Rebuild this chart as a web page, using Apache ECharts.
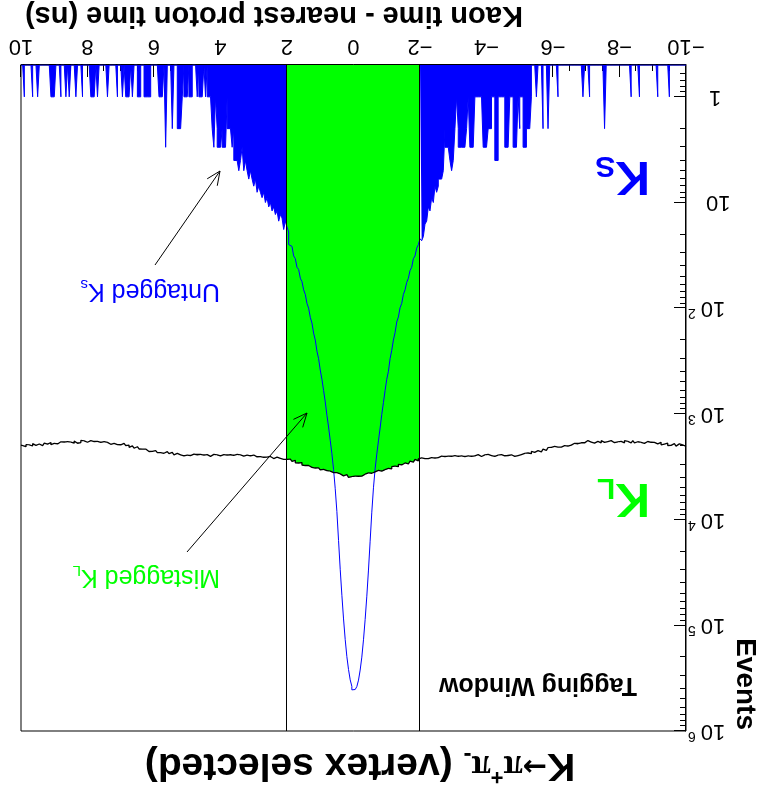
<!DOCTYPE html>
<html><head><meta charset="utf-8">
<script src="https://cdn.jsdelivr.net/npm/echarts@6/dist/echarts.min.js"></script>
<style>
html,body{margin:0;padding:0;background:#fff;overflow:hidden;}
#wrap{width:774px;height:789px;transform:rotate(180deg);transform-origin:50% 50%;}
#chart{width:774px;height:789px;}
</style></head><body>
<div id="wrap"><div id="chart"></div></div>
<script>
// ---------------- data ----------------
const X_MIN = -10, X_MAX = 10, BIN_WIDTH = 0.05;
const WINDOW_LO = -2, WINDOW_HI = 2;
const Y_MIN = 0.5, Y_MAX = 1e6;
const xTicks = [-10, -8, -6, -4, -2, 0, 2, 4, 6, 8, 10];
const yMajorTicks = [1, 10, 100, 1000, 10000, 100000, 1000000];
const yMinorTicks = [0.6,0.7,0.8,0.9, 2,3,4,5,6,7,8,9, 20,30,40,50,60,70,80,90,
  200,300,400,500,600,700,800,900, 2000,3000,4000,5000,6000,7000,8000,9000,
  20000,30000,40000,50000,60000,70000,80000,90000, 200000,300000,400000,500000,600000,700000,800000,900000];

// K_S (blue) counts per 0.05 ns bin, from -10 ns to +10 ns
const ksCounts = [
0,0,0,0,0,0,0,0,0,0,1,0,0,0,0,0,0,1,0,0,
0,0,0,0,0,0,0,0,1,0,0,0,0,1,0,0,0,0,0,0,
0,0,0,0,0,0,0,0,0,2,0,0,0,0,0,0,0,0,1,0,
0,0,1,0,0,0,0,0,0,0,0,0,0,0,0,0,0,1,0,0,
0,0,0,2,0,0,2,0,0,0,1,0,0,1,2,2,3,3,1,1,
2,1,3,3,1,1,1,3,3,1,1,1,1,4,4,1,1,2,2,2,
3,3,3,1,1,1,1,1,3,3,3,1,2,3,3,3,3,2,1,2,
4,5,4,3,3,2,5,6,6,7,8,7,10,9,12,11,15,16,21,23,
22,25,27,32,34,41,44,52,57,67,74,90,99,121,135,170,200,250,300,395,
470,600,780,1010,1360,1800,2400,3300,5000,8500,16000,30000,53000,88000,137000,200000,265000,330000,380000,405000,
408000,378000,328000,262000,198000,136000,87000,52000,29500,15800,8400,5100,3350,2380,1780,1330,1030,770,600,470,
385,300,255,200,172,138,122,100,90,74,67,56,52,43,41,34,32,26,25,19,
17,15,18,14,13,15,12,13,11,12,10,11,9,10,8,9,8,7,8,6,
7,6,5,6,5,4,5,3,4,5,4,4,2,3,2,2,1,3,3,2,
3,3,2,1,3,2,1,1,0,1,0,1,1,0,1,0,0,1,1,0,
1,1,0,1,2,2,0,0,0,2,0,0,0,3,0,1,1,1,0,0,
0,0,1,1,1,1,0,0,1,1,0,0,0,1,0,1,1,1,0,1,
0,0,1,0,0,0,0,0,1,0,0,0,0,0,1,0,1,1,1,0,
0,0,0,1,0,0,0,1,0,0,0,1,0,1,0,0,1,0,0,0,
1,1,1,0,0,0,0,0,0,0,1,0,0,1,0,0,0,0,1,0
];

// K_L (black) counts per 0.05 ns bin, from -10 ns to +10 ns
const klCounts = [
2035,1959,1993,1922,1997,2016,1940,1909,1984,1933,1992,1891,1931,1895,1959,1858,1923,1927,1856,1885,
1855,1922,1824,1885,1902,1824,1861,1913,1834,1806,1878,1855,1787,1878,1820,1857,1794,1876,1817,1790,
1835,1776,1872,1803,1789,1865,1831,1772,1858,1849,1790,1876,1822,1803,1889,1810,1846,1872,1788,1864,
1880,1823,1875,1823,1915,1953,1896,1883,1976,1943,2021,1939,1996,1979,2061,1979,2062,2084,2032,2080,
2075,2163,2087,2170,2209,2152,2210,2284,2227,2221,2314,2312,2266,2379,2343,2401,2359,2463,2426,2420,
2475,2425,2520,2450,2435,2510,2475,2415,2500,2490,2430,2515,2460,2440,2525,2445,2480,2505,2420,2495,
2440,2505,2530,2465,2425,2515,2490,2450,2525,2430,2500,2475,2535,2445,2495,2460,2520,2435,2485,2510,
2520,2459,2508,2452,2541,2575,2514,2498,2587,2551,2625,2539,2593,2572,2651,2565,2644,2663,2607,2651,
2663,2782,2689,2804,2859,2793,2876,2977,2913,2913,3042,3049,2999,3154,3116,3202,3160,3305,3269,3272,
3366,3313,3477,3410,3421,3558,3541,3490,3642,3661,3610,3763,3720,3727,3880,3803,3888,3958,3876,4017,
3926,3981,3979,3853,3761,3852,3783,3692,3763,3596,3661,3593,3644,3485,3523,3442,3494,3344,3383,3387,
3363,3236,3253,3133,3202,3201,3076,3011,3081,2990,3043,2887,2913,2844,2903,2749,2810,2793,2679,2695,
2626,2687,2583,2639,2650,2566,2597,2643,2559,2525,2591,2562,2488,2574,2510,2541,2472,2548,2484,2450,
2430,2495,2520,2455,2415,2505,2480,2440,2515,2420,2490,2465,2525,2435,2485,2450,2510,2425,2475,2500,
2510,2440,2480,2415,2495,2520,2450,2425,2505,2460,2515,2420,2465,2435,2505,2405,2475,2485,2420,2455,
2430,2489,2384,2438,2448,2362,2392,2436,2351,2315,2380,2349,2274,2358,2293,2322,2252,2326,2261,2225,
2265,2188,2267,2180,2149,2207,2155,2079,2147,2121,2044,2112,2041,2004,2073,1976,1994,2003,1901,1960,
1890,1949,1969,1898,1853,1937,1907,1861,1931,1830,1895,1864,1919,1823,1868,1827,1882,1791,1836,1855,
1865,1799,1843,1782,1866,1895,1829,1808,1892,1851,1920,1829,1878,1852,1926,1835,1909,1923,1862,1900,
1878,1953,1863,1934,1959,1889,1935,1995,1925,1906,1986,1971,1911,2012,1962,2007,1953,2043,1993,1970
];

// ---------------- helpers ----------------
const FONT = "'Liberation Sans', Arial, Helvetica, sans-serif";
const SERIF = "'Liberation Serif', 'Times New Roman', serif";
const BLUE = '#0000ff', GREEN = '#00ff00';
function edge(i){ return Math.round((X_MIN + i * BIN_WIDTH) * 1000) / 1000; }
function binIndex(x){ return Math.round((x - X_MIN) / BIN_WIDTH); }
function stepData(vals, from, to){
  const pts = [];
  for (let i = from; i < to; i++) pts.push([edge(i), Math.max(vals[i], Y_MIN)]);
  pts.push([edge(to), Math.max(vals[to - 1], Y_MIN)]);
  return pts;
}
const nBins = ksCounts.length;
const wLo = binIndex(WINDOW_LO), wHi = binIndex(WINDOW_HI);

function arrow(x1, y1, x2, y2){
  const dx = x2 - x1, dy = y2 - y1, L = Math.hypot(dx, dy);
  const ux = dx / L, uy = dy / L, h = 15, a = 0.42;
  const c = Math.cos(a), s = Math.sin(a);
  const p1 = [x2 - h * (ux * c - uy * s), y2 - h * (uy * c + ux * s)];
  const p2 = [x2 - h * (ux * c + uy * s), y2 - h * (uy * c - ux * s)];
  return [
    {type:'line', shape:{x1:x1, y1:y1, x2:x2, y2:y2}, style:{stroke:'#000', lineWidth:1}, z:50},
    {type:'polyline', shape:{points:[p1, [x2, y2], p2]}, style:{stroke:'#000', lineWidth:1, fill:null}, z:50}
  ];
}

const chart = echarts.init(document.getElementById('chart'), null, {renderer:'canvas'});
const option = {
  animation: false,
  backgroundColor: '#fff',
  grid: {left: 88, right: 21, top: 58, bottom: 65, show: true, borderColor: '#000', borderWidth: 1},
  xAxis: {
    type: 'value', min: X_MIN, max: X_MAX, interval: 2,
    axisLine: {show: true, onZero: false, lineStyle: {color: '#000', width: 1}},
    axisTick: {show: true, inside: true, length: 12, lineStyle: {color: '#000'}},
    minorTick: {show: true, splitNumber: 4, length: 6, lineStyle: {color: '#000'}},
    splitLine: {show: false},
    axisLabel: {margin: 8, fontSize: 22, color: '#000', fontFamily: FONT,
      formatter: v => (v < 0 ? '\u2212' + (-v) : '' + v)}
  },
  yAxis: [{
    type: 'log', logBase: 10, min: Y_MIN, max: Y_MAX, position: 'left',
    axisLine: {show: true, onZero: false, lineStyle: {color: '#000', width: 1}},
    axisTick: {show: true, inside: true, length: 12, customValues: yMajorTicks, lineStyle: {color: '#000'}},
    splitLine: {show: false},
    axisLabel: {
      customValues: yMajorTicks, margin: 2, color: '#000', fontFamily: FONT, fontSize: 22,
      formatter: function(v){
        const e = Math.round(Math.log10(v));
        if (e === 0) return '{a|1}';
        if (e === 1) return '{b|10}';
        return '{n|10}{s|' + e + '}';
      },
      rich: {
        a: {fontSize: 22, fontFamily: FONT, color: '#000', padding: [0, 21, 0, 0]},
        b: {fontSize: 22, fontFamily: FONT, color: '#000', padding: [0, 18, 0, 0]},
        n: {fontSize: 22, fontFamily: FONT, color: '#000', lineHeight: 24},
        s: {fontSize: 14, fontFamily: FONT, color: '#000', verticalAlign: 'top', lineHeight: 14, padding: [0, 0, 0, 5]}
      }
    }
  }, {
    type: 'log', logBase: 10, min: Y_MIN, max: Y_MAX, position: 'left',
    axisLine: {show: false, onZero: false},
    axisTick: {show: true, inside: true, length: 6, customValues: yMinorTicks, lineStyle: {color: '#000'}},
    axisLabel: {show: false},
    splitLine: {show: false}
  }],
  series: [
    { // mistagged K_L fill (inside window)
      type: 'line', step: 'end', symbol: 'none', z: 1,
      data: stepData(klCounts, wLo, wHi),
      lineStyle: {width: 0, color: GREEN},
      areaStyle: {color: GREEN, opacity: 1, origin: 'start'}
    },
    { // untagged K_S fill, negative side
      type: 'line', step: 'end', symbol: 'none', z: 2,
      data: stepData(ksCounts, 0, wLo),
      lineStyle: {width: 0, color: BLUE},
      areaStyle: {color: BLUE, opacity: 1, origin: 'start'}
    },
    { // untagged K_S fill, positive side
      type: 'line', step: 'end', symbol: 'none', z: 2,
      data: stepData(ksCounts, wHi, nBins),
      lineStyle: {width: 0, color: BLUE},
      areaStyle: {color: BLUE, opacity: 1, origin: 'start'}
    },
    { // K_S histogram outline
      type: 'line', step: 'end', symbol: 'none', z: 3,
      data: stepData(ksCounts, 0, nBins),
      lineStyle: {width: 1, color: BLUE}
    },
    { // K_L histogram outline
      type: 'line', step: 'end', symbol: 'none', z: 4,
      data: stepData(klCounts, 0, nBins),
      lineStyle: {width: 1.3, color: '#000'},
      markLine: {
        silent: true, symbol: ['none', 'none'], label: {show: false},
        lineStyle: {color: '#000', width: 1, type: 'solid'},
        data: [{xAxis: WINDOW_LO}, {xAxis: WINDOW_HI}]
      }
    }
  ],
  graphic: [
    {type:'text', x: 749, y: 774, z: 60, style:{text:'Kaon time - nearest proton time (ns)', font:'bold 29px ' + FONT, fill:'#000', textAlign:'right', textVerticalAlign:'middle'}},
    {type:'text', x: 29, y: 59, rotation: Math.PI / 2, z: 60, style:{text:'Events', font:'bold 28px ' + FONT, fill:'#000', textAlign:'right', textVerticalAlign:'middle'}},
    {type:'text', x: 414, y: 24, z: 60, style:{
      text: '{k|K}{ar|\u2192}{pi|\u03c0}{sup|+}{pi|\u03c0}{sub|-}{t| (vertex selected)}',
      textAlign:'center', textVerticalAlign:'middle',
      rich: {
        k: {font: 'bold 39px ' + FONT, fill:'#000', lineHeight: 44},
        ar: {font: 'bold 29px "DejaVu Sans", sans-serif', fill:'#000', lineHeight: 44},
        pi: {font: 'bold 35px ' + SERIF, fill:'#000', lineHeight: 44},
        sup: {font: 'bold 22px ' + FONT, fill:'#000', verticalAlign:'top', lineHeight: 22},
        sub: {font: 'bold 24px ' + FONT, fill:'#000', verticalAlign:'bottom', lineHeight: 22},
        t: {font: 'bold 39px ' + FONT, fill:'#000', lineHeight: 44}
      }}},
    {type:'text', x: 236, y: 104, z: 60, style:{text:'Tagging Window', font:'bold 25px ' + FONT, fill:'#000', textAlign:'center', textVerticalAlign:'middle'}},
    {type:'text', x: 124, y: 614, z: 60, style:{text:'{k|K}{s|S}', textAlign:'left', textVerticalAlign:'middle',
      rich:{k:{font:'bold 48px ' + FONT, fill: BLUE, lineHeight: 50}, s:{font:'bold 30px ' + FONT, fill: BLUE, verticalAlign:'bottom', lineHeight: 30}}}},
    {type:'text', x: 124, y: 292, z: 60, style:{text:'{k|K}{s|L}', textAlign:'left', textVerticalAlign:'middle',
      rich:{k:{font:'bold 48px ' + FONT, fill: GREEN, lineHeight: 50}, s:{font:'bold 30px ' + FONT, fill: GREEN, verticalAlign:'bottom', lineHeight: 30}}}},
    {type:'text', x: 554, y: 498, z: 60, style:{text:'{m|Untagged K}{s|s}', textAlign:'left', textVerticalAlign:'middle',
      rich:{m:{font:'25px ' + FONT, fill: BLUE, lineHeight: 28}, s:{font:'15px ' + FONT, fill: BLUE, verticalAlign:'bottom', lineHeight: 16}}}},
    {type:'text', x: 554, y: 212, z: 60, style:{text:'{m|Mistagged K}{s|L}', textAlign:'left', textVerticalAlign:'middle',
      rich:{m:{font:'25px ' + FONT, fill: GREEN, lineHeight: 28}, s:{font:'15px ' + FONT, fill: GREEN, verticalAlign:'bottom', lineHeight: 16}}}}
  ].concat(arrow(619, 524, 554, 618), arrow(587, 237, 467, 376))
};
chart.setOption(option);
</script>
</body></html>
